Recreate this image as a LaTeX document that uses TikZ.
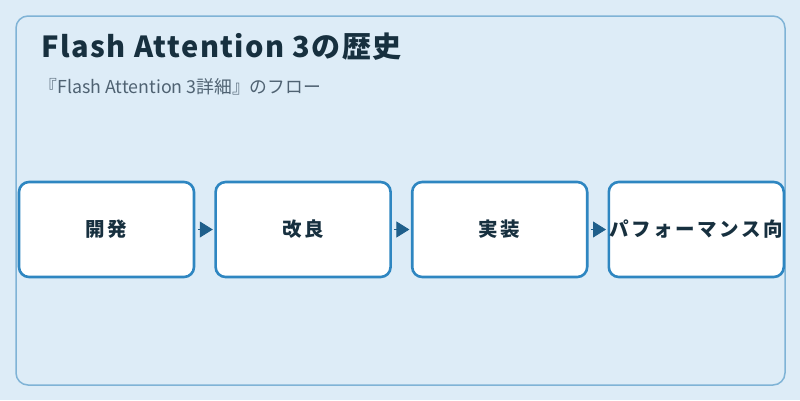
\documentclass[tikz,border=0pt]{standalone}
\usepackage{fontspec}
\setmainfont{Noto Sans CJK JP}
\newfontfamily\boxfont[LetterSpace=13]{Noto Sans CJK JP}
\newfontfamily\titlefont[LetterSpace=5]{Noto Sans CJK JP}
\usetikzlibrary{positioning,arrows.meta}
\definecolor{bgblue}{HTML}{DDECF7}
\definecolor{panelline}{HTML}{7FB3D6}
\definecolor{boxline}{HTML}{2E86C1}
\definecolor{tipblue}{HTML}{1F5F8B}
\definecolor{inkdark}{HTML}{17303F}
\definecolor{inkgray}{HTML}{4F6272}
\tikzset{
	stagebox/.style={draw=boxline, line width=2.6pt, fill=white, rounded corners=10pt,
		minimum width=175pt, minimum height=95pt, inner sep=0pt,
		font=\boxfont\bfseries\fontsize{19.5}{22}\selectfont, text=inkdark},
	flow/.style={draw=tipblue, line width=0.8pt, shorten <=2.5pt, shorten >=1.5pt,
		-{Triangle[length=13pt,width=16pt]}},
}
\begin{document}
\begin{tikzpicture}[x=1pt,y=-1pt]
		\fill[bgblue] (0,0) rectangle (800,400);
		\useasboundingbox (0,0) rectangle (800,400);
		\draw[panelline, line width=1.5pt, rounded corners=12pt] (16,16) rectangle (785,385);
		\path (38,57) node [anchor=base west, text=inkdark, font=\titlefont\bfseries\fontsize{29}{32}\selectfont] (title) {Flash Attention 3の歴史};
		\path (36,93) node [anchor=base west, text=inkgray, font=\fontsize{17.8}{20}\selectfont] (subtitle) {『Flash Attention 3詳細』のフロー};
		% stages
		\node [stagebox] (dev) at (106.5,229.5) {開発};
		\node [stagebox, right=19pt of dev] (improve) {改良};
		\node [stagebox, right=19pt of improve] (impl) {実装};
		\node [stagebox, right=19pt of impl] (perf) {パフォーマンス向};
		\draw[flow] (dev.east) -- (improve.west);
		\draw[flow] (improve.east) -- (impl.west);
		\draw[flow] (impl.east) -- (perf.west);
		\end{tikzpicture}
\end{document}
